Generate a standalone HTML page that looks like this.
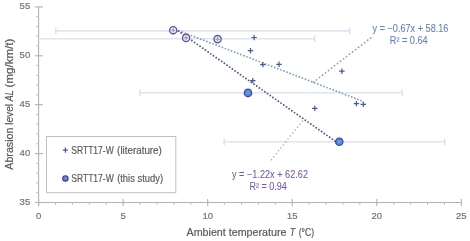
<!DOCTYPE html>
<html><head><meta charset="utf-8"><style>
html,body{margin:0;padding:0;background:#fff;}
svg{display:block;}
</style></head><body>
<svg width="470" height="241" viewBox="0 0 470 241">
<defs><radialGradient id="cg"><stop offset="0" stop-color="#6fa6ec"/><stop offset="1" stop-color="#4a74d0"/></radialGradient><filter id="b" x="0" y="0" width="1" height="1"><feGaussianBlur stdDeviation="0.5"/></filter></defs>
<rect width="470" height="241" fill="#fff"/>
<g filter="url(#b)">
<rect width="470" height="241" fill="#fff"/>
<line x1="38.6" y1="6.9" x2="38.6" y2="206.00" stroke="#b2b2b2" stroke-width="1.1"/>
<line x1="35" y1="202.50" x2="461.35" y2="202.50" stroke="#b2b2b2" stroke-width="1.1"/>
<line x1="35" y1="202.50" x2="43" y2="202.50" stroke="#b2b2b2" stroke-width="1.1"/>
<line x1="36" y1="192.72" x2="38.6" y2="192.72" stroke="#c4c4c4" stroke-width="1"/>
<line x1="36" y1="182.94" x2="38.6" y2="182.94" stroke="#c4c4c4" stroke-width="1"/>
<line x1="36" y1="173.16" x2="38.6" y2="173.16" stroke="#c4c4c4" stroke-width="1"/>
<line x1="36" y1="163.38" x2="38.6" y2="163.38" stroke="#c4c4c4" stroke-width="1"/>
<line x1="35" y1="153.60" x2="43" y2="153.60" stroke="#b2b2b2" stroke-width="1.1"/>
<line x1="36" y1="143.82" x2="38.6" y2="143.82" stroke="#c4c4c4" stroke-width="1"/>
<line x1="36" y1="134.04" x2="38.6" y2="134.04" stroke="#c4c4c4" stroke-width="1"/>
<line x1="36" y1="124.26" x2="38.6" y2="124.26" stroke="#c4c4c4" stroke-width="1"/>
<line x1="36" y1="114.48" x2="38.6" y2="114.48" stroke="#c4c4c4" stroke-width="1"/>
<line x1="35" y1="104.70" x2="43" y2="104.70" stroke="#b2b2b2" stroke-width="1.1"/>
<line x1="36" y1="94.92" x2="38.6" y2="94.92" stroke="#c4c4c4" stroke-width="1"/>
<line x1="36" y1="85.14" x2="38.6" y2="85.14" stroke="#c4c4c4" stroke-width="1"/>
<line x1="36" y1="75.36" x2="38.6" y2="75.36" stroke="#c4c4c4" stroke-width="1"/>
<line x1="36" y1="65.58" x2="38.6" y2="65.58" stroke="#c4c4c4" stroke-width="1"/>
<line x1="35" y1="55.80" x2="43" y2="55.80" stroke="#b2b2b2" stroke-width="1.1"/>
<line x1="36" y1="46.02" x2="38.6" y2="46.02" stroke="#c4c4c4" stroke-width="1"/>
<line x1="36" y1="36.24" x2="38.6" y2="36.24" stroke="#c4c4c4" stroke-width="1"/>
<line x1="36" y1="26.46" x2="38.6" y2="26.46" stroke="#c4c4c4" stroke-width="1"/>
<line x1="36" y1="16.68" x2="38.6" y2="16.68" stroke="#c4c4c4" stroke-width="1"/>
<line x1="35" y1="6.90" x2="43" y2="6.90" stroke="#b2b2b2" stroke-width="1.1"/>
<line x1="38.60" y1="199.00" x2="38.60" y2="206.00" stroke="#b2b2b2" stroke-width="1.1"/>
<line x1="55.51" y1="202.50" x2="55.51" y2="205.30" stroke="#c4c4c4" stroke-width="1"/>
<line x1="72.42" y1="202.50" x2="72.42" y2="205.30" stroke="#c4c4c4" stroke-width="1"/>
<line x1="89.33" y1="202.50" x2="89.33" y2="205.30" stroke="#c4c4c4" stroke-width="1"/>
<line x1="106.24" y1="202.50" x2="106.24" y2="205.30" stroke="#c4c4c4" stroke-width="1"/>
<line x1="123.15" y1="199.00" x2="123.15" y2="206.00" stroke="#b2b2b2" stroke-width="1.1"/>
<line x1="140.06" y1="202.50" x2="140.06" y2="205.30" stroke="#c4c4c4" stroke-width="1"/>
<line x1="156.97" y1="202.50" x2="156.97" y2="205.30" stroke="#c4c4c4" stroke-width="1"/>
<line x1="173.88" y1="202.50" x2="173.88" y2="205.30" stroke="#c4c4c4" stroke-width="1"/>
<line x1="190.79" y1="202.50" x2="190.79" y2="205.30" stroke="#c4c4c4" stroke-width="1"/>
<line x1="207.70" y1="199.00" x2="207.70" y2="206.00" stroke="#b2b2b2" stroke-width="1.1"/>
<line x1="224.61" y1="202.50" x2="224.61" y2="205.30" stroke="#c4c4c4" stroke-width="1"/>
<line x1="241.52" y1="202.50" x2="241.52" y2="205.30" stroke="#c4c4c4" stroke-width="1"/>
<line x1="258.43" y1="202.50" x2="258.43" y2="205.30" stroke="#c4c4c4" stroke-width="1"/>
<line x1="275.34" y1="202.50" x2="275.34" y2="205.30" stroke="#c4c4c4" stroke-width="1"/>
<line x1="292.25" y1="199.00" x2="292.25" y2="206.00" stroke="#b2b2b2" stroke-width="1.1"/>
<line x1="309.16" y1="202.50" x2="309.16" y2="205.30" stroke="#c4c4c4" stroke-width="1"/>
<line x1="326.07" y1="202.50" x2="326.07" y2="205.30" stroke="#c4c4c4" stroke-width="1"/>
<line x1="342.98" y1="202.50" x2="342.98" y2="205.30" stroke="#c4c4c4" stroke-width="1"/>
<line x1="359.89" y1="202.50" x2="359.89" y2="205.30" stroke="#c4c4c4" stroke-width="1"/>
<line x1="376.80" y1="199.00" x2="376.80" y2="206.00" stroke="#b2b2b2" stroke-width="1.1"/>
<line x1="393.71" y1="202.50" x2="393.71" y2="205.30" stroke="#c4c4c4" stroke-width="1"/>
<line x1="410.62" y1="202.50" x2="410.62" y2="205.30" stroke="#c4c4c4" stroke-width="1"/>
<line x1="427.53" y1="202.50" x2="427.53" y2="205.30" stroke="#c4c4c4" stroke-width="1"/>
<line x1="444.44" y1="202.50" x2="444.44" y2="205.30" stroke="#c4c4c4" stroke-width="1"/>
<line x1="461.35" y1="199.00" x2="461.35" y2="206.00" stroke="#b2b2b2" stroke-width="1.1"/>
<text x="30.2" y="204.50" text-anchor="end" font-family="Liberation Sans, sans-serif" font-size="9.5" fill="#737373" stroke="#737373" stroke-width="0.2">35</text>
<text x="30.2" y="155.60" text-anchor="end" font-family="Liberation Sans, sans-serif" font-size="9.5" fill="#737373" stroke="#737373" stroke-width="0.2">40</text>
<text x="30.2" y="106.70" text-anchor="end" font-family="Liberation Sans, sans-serif" font-size="9.5" fill="#737373" stroke="#737373" stroke-width="0.2">45</text>
<text x="30.2" y="57.80" text-anchor="end" font-family="Liberation Sans, sans-serif" font-size="9.5" fill="#737373" stroke="#737373" stroke-width="0.2">50</text>
<text x="30.2" y="8.90" text-anchor="end" font-family="Liberation Sans, sans-serif" font-size="9.5" fill="#737373" stroke="#737373" stroke-width="0.2">55</text>
<text x="38.60" y="218.9" text-anchor="middle" font-family="Liberation Sans, sans-serif" font-size="9.5" fill="#737373" stroke="#737373" stroke-width="0.2">0</text>
<text x="123.15" y="218.9" text-anchor="middle" font-family="Liberation Sans, sans-serif" font-size="9.5" fill="#737373" stroke="#737373" stroke-width="0.2">5</text>
<text x="207.70" y="218.9" text-anchor="middle" font-family="Liberation Sans, sans-serif" font-size="9.5" fill="#737373" stroke="#737373" stroke-width="0.2">10</text>
<text x="292.25" y="218.9" text-anchor="middle" font-family="Liberation Sans, sans-serif" font-size="9.5" fill="#737373" stroke="#737373" stroke-width="0.2">15</text>
<text x="376.80" y="218.9" text-anchor="middle" font-family="Liberation Sans, sans-serif" font-size="9.5" fill="#737373" stroke="#737373" stroke-width="0.2">20</text>
<text x="461.35" y="218.9" text-anchor="middle" font-family="Liberation Sans, sans-serif" font-size="9.5" fill="#737373" stroke="#737373" stroke-width="0.2">25</text>
<line x1="55.8" y1="30.9" x2="349.6" y2="30.9" stroke="#dfe5f0" stroke-width="1.6"/>
<line x1="55.8" y1="27.50" x2="55.8" y2="34.30" stroke="#d6deeb" stroke-width="1.3"/>
<line x1="349.6" y1="27.50" x2="349.6" y2="34.30" stroke="#d6deeb" stroke-width="1.3"/>
<line x1="38.6" y1="38.7" x2="314.6" y2="38.7" stroke="#dfe5f0" stroke-width="1.6"/>
<line x1="314.6" y1="35.30" x2="314.6" y2="42.10" stroke="#d6deeb" stroke-width="1.3"/>
<line x1="139.9" y1="92.8" x2="402.2" y2="92.8" stroke="#dfe5f0" stroke-width="1.6"/>
<line x1="139.9" y1="89.40" x2="139.9" y2="96.20" stroke="#d6deeb" stroke-width="1.3"/>
<line x1="402.2" y1="89.40" x2="402.2" y2="96.20" stroke="#d6deeb" stroke-width="1.3"/>
<line x1="224.2" y1="141.8" x2="444.7" y2="141.8" stroke="#dfe5f0" stroke-width="1.6"/>
<line x1="224.2" y1="138.40" x2="224.2" y2="145.20" stroke="#d6deeb" stroke-width="1.3"/>
<line x1="444.7" y1="138.40" x2="444.7" y2="145.20" stroke="#d6deeb" stroke-width="1.3"/>
<line x1="173" y1="28.5" x2="362" y2="101" stroke="#80a2c6" stroke-width="1.9" stroke-linecap="round" stroke-dasharray="0 3.3"/>
<line x1="173" y1="27.3" x2="339.3" y2="144" stroke="#62508e" stroke-width="1.9" stroke-linecap="round" stroke-dasharray="0 3.3"/>
<line x1="313.5" y1="82.1" x2="371.3" y2="37.4" stroke="#84a0b8" stroke-width="1.8" stroke-linecap="round" stroke-dasharray="0 3.8"/>
<line x1="302.3" y1="121.2" x2="270.4" y2="161" stroke="#a0a0b2" stroke-width="1.5" stroke-linecap="round" stroke-dasharray="0 3.8"/>
<circle cx="173.2" cy="30.2" r="3.6" fill="#f2f1f8" stroke="#65579a" stroke-width="1.4"/>
<path d="M171.00 30.20H175.40M173.20 28.00V32.40" stroke="#8a96c4" stroke-width="1.1" fill="none"/>
<circle cx="186.1" cy="37.9" r="3.6" fill="#f2f1f8" stroke="#65579a" stroke-width="1.4"/>
<path d="M183.90 37.90H188.30M186.10 35.70V40.10" stroke="#8a96c4" stroke-width="1.1" fill="none"/>
<circle cx="217.6" cy="39.1" r="3.6" fill="#f2f1f8" stroke="#65579a" stroke-width="1.4"/>
<path d="M215.40 39.10H219.80M217.60 36.90V41.30" stroke="#8a96c4" stroke-width="1.1" fill="none"/>
<circle cx="248" cy="92.9" r="3.7" fill="url(#cg)" stroke="#3f4c9e" stroke-width="1.2"/>
<circle cx="339.3" cy="141.8" r="3.7" fill="url(#cg)" stroke="#3f4c9e" stroke-width="1.2"/>
<path d="M251.40 37.50H256.80M254.10 34.80V40.20" stroke="#42599c" stroke-width="1.2" fill="none"/>
<path d="M247.80 50.70H253.20M250.50 48.00V53.40" stroke="#42599c" stroke-width="1.2" fill="none"/>
<path d="M260.20 64.60H265.60M262.90 61.90V67.30" stroke="#42599c" stroke-width="1.2" fill="none"/>
<path d="M276.30 64.30H281.70M279.00 61.60V67.00" stroke="#42599c" stroke-width="1.2" fill="none"/>
<path d="M250.10 80.60H255.50M252.80 77.90V83.30" stroke="#42599c" stroke-width="1.2" fill="none"/>
<path d="M339.20 71.20H344.60M341.90 68.50V73.90" stroke="#42599c" stroke-width="1.2" fill="none"/>
<path d="M312.10 108.40H317.50M314.80 105.70V111.10" stroke="#42599c" stroke-width="1.2" fill="none"/>
<path d="M353.70 103.60H359.10M356.40 100.90V106.30" stroke="#42599c" stroke-width="1.2" fill="none"/>
<path d="M360.60 104.30H366.00M363.30 101.60V107.00" stroke="#42599c" stroke-width="1.2" fill="none"/>
<rect x="46.5" y="136.5" width="129.3" height="56.2" fill="#fff" stroke="#c0c0c0" stroke-width="1"/>
<path d="M62.80 150.20H68.00M65.40 147.60V152.80" stroke="#42599c" stroke-width="1.2" fill="none"/>
<circle cx="65.4" cy="178.4" r="2.7" fill="#7480d4" stroke="#3d3b88" stroke-width="1.1"/>
<text x="372.60" y="31.70" font-size="10.0" font-family="Liberation Sans, sans-serif" fill="#6580ba" stroke="#6580ba" stroke-width="0.08" textLength="75.78" lengthAdjust="spacingAndGlyphs">y = −0.67x + 58.16</text>
<text x="389.77" y="43.70" font-size="10.0" font-family="Liberation Sans, sans-serif" fill="#6580ba" stroke="#6580ba" stroke-width="0.08" textLength="37.92" lengthAdjust="spacingAndGlyphs">R² = 0.64</text>
<text x="232.00" y="177.70" font-size="10.0" font-family="Liberation Sans, sans-serif" fill="#7656ac" stroke="#7656ac" stroke-width="0.06" textLength="75.98" lengthAdjust="spacingAndGlyphs">y = −1.22x + 62.62</text>
<text x="249.48" y="190.30" font-size="10.0" font-family="Liberation Sans, sans-serif" fill="#7656ac" stroke="#7656ac" stroke-width="0.06" textLength="37.20" lengthAdjust="spacingAndGlyphs">R² = 0.94</text>
<text x="71.27" y="153.50" font-size="10.2" font-family="Liberation Sans, sans-serif" fill="#595959" stroke="#595959" stroke-width="0.18" textLength="42.44" lengthAdjust="spacingAndGlyphs">SRTT17-W</text>
<text x="117.11" y="153.50" font-size="10.2" font-family="Liberation Sans, sans-serif" fill="#595959" stroke="#595959" stroke-width="0.18" textLength="44.74" lengthAdjust="spacingAndGlyphs">(literature)</text>
<text x="71.27" y="181.90" font-size="10.2" font-family="Liberation Sans, sans-serif" fill="#595959" stroke="#595959" stroke-width="0.18" textLength="42.44" lengthAdjust="spacingAndGlyphs">SRTT17-W</text>
<text x="117.14" y="181.90" font-size="10.2" font-family="Liberation Sans, sans-serif" fill="#595959" stroke="#595959" stroke-width="0.18" textLength="45.93" lengthAdjust="spacingAndGlyphs">(this study)</text>
<text x="186.50" y="235.90" font-size="10.6" font-family="Liberation Sans, sans-serif" fill="#595959" stroke="#595959" stroke-width="0.2" textLength="100.01" lengthAdjust="spacingAndGlyphs">Ambient temperature</text>
<text x="289.78" y="235.90" font-size="10.6" font-style="italic" font-family="Liberation Sans, sans-serif" fill="#595959" stroke="#595959" stroke-width="0.2" textLength="5.58" lengthAdjust="spacingAndGlyphs">T</text>
<text x="298.68" y="235.90" font-size="10.6" font-family="Liberation Sans, sans-serif" fill="#595959" stroke="#595959" stroke-width="0.2" textLength="15.42" lengthAdjust="spacingAndGlyphs">(°C)</text>
<g transform="translate(12.8,170) rotate(-90)">
<text x="0.30" y="0.00" font-size="10.6" font-family="Liberation Sans, sans-serif" fill="#595959" stroke="#595959" stroke-width="0.2" textLength="42.11" lengthAdjust="spacingAndGlyphs">Abrasion</text>
<text x="45.30" y="0.00" font-size="10.6" font-family="Liberation Sans, sans-serif" fill="#595959" stroke="#595959" stroke-width="0.2" textLength="20.67" lengthAdjust="spacingAndGlyphs">level</text>
<text x="68.74" y="0.00" font-size="10.6" font-style="italic" font-family="Liberation Sans, sans-serif" fill="#595959" stroke="#595959" stroke-width="0.2" textLength="10.81" lengthAdjust="spacingAndGlyphs">AL</text>
<text x="82.61" y="0.00" font-size="10.6" font-family="Liberation Sans, sans-serif" fill="#595959" stroke="#595959" stroke-width="0.2" textLength="48.70" lengthAdjust="spacingAndGlyphs">(mg/km/t)</text>
</g>
</g>
</svg>
</body></html>
